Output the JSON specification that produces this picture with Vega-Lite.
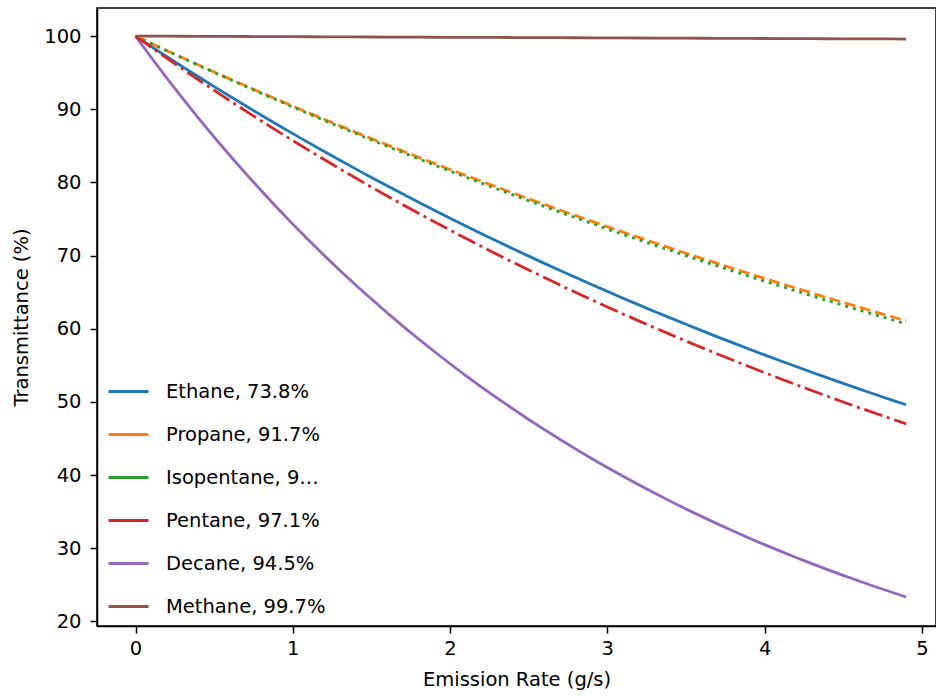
{
  "$schema": "https://vega.github.io/schema/vega-lite/v6.json",
  "autosize": {"type": "none"},
  "padding": {"left": 97, "top": 8, "right": 0, "bottom": 70},
  "width": 839,
  "height": 618,
  "background": "white",
  "config": {
    "font": "DejaVu Sans",
    "view": {"stroke": "black", "strokeWidth": 1.5},
    "axis": {
      "grid": false,
      "domainColor": "black",
      "domainWidth": 1.5,
      "tickColor": "black",
      "tickWidth": 1.5,
      "tickSize": 7,
      "labelColor": "black",
      "labelFontSize": 19.5,
      "titleColor": "black",
      "titleFontSize": 19.5,
      "titleFontWeight": "normal"
    }
  },
  "data": {
    "values": [
      {"s":"Ethane, 73.8%","x":0,"T":100},{"s":"Ethane, 73.8%","x":0.1,"T":98.58},{"s":"Ethane, 73.8%","x":0.2,"T":97.18},{"s":"Ethane, 73.8%","x":0.3,"T":95.80},{"s":"Ethane, 73.8%","x":0.4,"T":94.44},{"s":"Ethane, 73.8%","x":0.5,"T":93.09},{"s":"Ethane, 73.8%","x":0.6,"T":91.77},{"s":"Ethane, 73.8%","x":0.7,"T":90.47},{"s":"Ethane, 73.8%","x":0.8,"T":89.18},{"s":"Ethane, 73.8%","x":0.9,"T":87.92},
      {"s":"Ethane, 73.8%","x":1.0,"T":86.67},{"s":"Ethane, 73.8%","x":1.1,"T":85.44},{"s":"Ethane, 73.8%","x":1.2,"T":84.22},{"s":"Ethane, 73.8%","x":1.3,"T":83.02},{"s":"Ethane, 73.8%","x":1.4,"T":81.85},{"s":"Ethane, 73.8%","x":1.5,"T":80.68},{"s":"Ethane, 73.8%","x":1.6,"T":79.54},{"s":"Ethane, 73.8%","x":1.7,"T":78.41},{"s":"Ethane, 73.8%","x":1.8,"T":77.29},{"s":"Ethane, 73.8%","x":1.9,"T":76.19},
      {"s":"Ethane, 73.8%","x":2.0,"T":75.11},{"s":"Ethane, 73.8%","x":2.1,"T":74.04},{"s":"Ethane, 73.8%","x":2.2,"T":72.99},{"s":"Ethane, 73.8%","x":2.3,"T":71.95},{"s":"Ethane, 73.8%","x":2.4,"T":70.93},{"s":"Ethane, 73.8%","x":2.5,"T":69.92},{"s":"Ethane, 73.8%","x":2.6,"T":68.93},{"s":"Ethane, 73.8%","x":2.7,"T":67.95},{"s":"Ethane, 73.8%","x":2.8,"T":66.99},{"s":"Ethane, 73.8%","x":2.9,"T":66.03},
      {"s":"Ethane, 73.8%","x":3.0,"T":65.10},{"s":"Ethane, 73.8%","x":3.1,"T":64.17},{"s":"Ethane, 73.8%","x":3.2,"T":63.26},{"s":"Ethane, 73.8%","x":3.3,"T":62.36},{"s":"Ethane, 73.8%","x":3.4,"T":61.48},{"s":"Ethane, 73.8%","x":3.5,"T":60.60},{"s":"Ethane, 73.8%","x":3.6,"T":59.74},{"s":"Ethane, 73.8%","x":3.7,"T":58.89},{"s":"Ethane, 73.8%","x":3.8,"T":58.06},{"s":"Ethane, 73.8%","x":3.9,"T":57.23},
      {"s":"Ethane, 73.8%","x":4.0,"T":56.42},{"s":"Ethane, 73.8%","x":4.1,"T":55.62},{"s":"Ethane, 73.8%","x":4.2,"T":54.83},{"s":"Ethane, 73.8%","x":4.3,"T":54.05},{"s":"Ethane, 73.8%","x":4.4,"T":53.28},{"s":"Ethane, 73.8%","x":4.5,"T":52.52},{"s":"Ethane, 73.8%","x":4.6,"T":51.78},{"s":"Ethane, 73.8%","x":4.7,"T":51.04},{"s":"Ethane, 73.8%","x":4.8,"T":50.31},{"s":"Ethane, 73.8%","x":4.9,"T":49.60},
      {"s":"Decane, 94.5%","x":0,"T":100},{"s":"Decane, 94.5%","x":0.1,"T":97.07},{"s":"Decane, 94.5%","x":0.2,"T":94.23},{"s":"Decane, 94.5%","x":0.3,"T":91.48},{"s":"Decane, 94.5%","x":0.4,"T":88.80},{"s":"Decane, 94.5%","x":0.5,"T":86.20},{"s":"Decane, 94.5%","x":0.6,"T":83.68},{"s":"Decane, 94.5%","x":0.7,"T":81.23},{"s":"Decane, 94.5%","x":0.8,"T":78.85},{"s":"Decane, 94.5%","x":0.9,"T":76.54},
      {"s":"Decane, 94.5%","x":1.0,"T":74.30},{"s":"Decane, 94.5%","x":1.1,"T":72.13},{"s":"Decane, 94.5%","x":1.2,"T":70.02},{"s":"Decane, 94.5%","x":1.3,"T":67.97},{"s":"Decane, 94.5%","x":1.4,"T":65.98},{"s":"Decane, 94.5%","x":1.5,"T":64.05},{"s":"Decane, 94.5%","x":1.6,"T":62.18},{"s":"Decane, 94.5%","x":1.7,"T":60.36},{"s":"Decane, 94.5%","x":1.8,"T":58.59},{"s":"Decane, 94.5%","x":1.9,"T":56.88},
      {"s":"Decane, 94.5%","x":2.0,"T":55.21},{"s":"Decane, 94.5%","x":2.1,"T":53.60},{"s":"Decane, 94.5%","x":2.2,"T":52.03},{"s":"Decane, 94.5%","x":2.3,"T":50.50},{"s":"Decane, 94.5%","x":2.4,"T":49.03},{"s":"Decane, 94.5%","x":2.5,"T":47.59},{"s":"Decane, 94.5%","x":2.6,"T":46.20},{"s":"Decane, 94.5%","x":2.7,"T":44.85},{"s":"Decane, 94.5%","x":2.8,"T":43.54},{"s":"Decane, 94.5%","x":2.9,"T":42.26},
      {"s":"Decane, 94.5%","x":3.0,"T":41.02},{"s":"Decane, 94.5%","x":3.1,"T":39.82},{"s":"Decane, 94.5%","x":3.2,"T":38.66},{"s":"Decane, 94.5%","x":3.3,"T":37.53},{"s":"Decane, 94.5%","x":3.4,"T":36.43},{"s":"Decane, 94.5%","x":3.5,"T":35.36},{"s":"Decane, 94.5%","x":3.6,"T":34.33},{"s":"Decane, 94.5%","x":3.7,"T":33.32},{"s":"Decane, 94.5%","x":3.8,"T":32.35},{"s":"Decane, 94.5%","x":3.9,"T":31.40},
      {"s":"Decane, 94.5%","x":4.0,"T":30.48},{"s":"Decane, 94.5%","x":4.1,"T":29.59},{"s":"Decane, 94.5%","x":4.2,"T":28.72},{"s":"Decane, 94.5%","x":4.3,"T":27.88},{"s":"Decane, 94.5%","x":4.4,"T":27.07},{"s":"Decane, 94.5%","x":4.5,"T":26.28},{"s":"Decane, 94.5%","x":4.6,"T":25.51},{"s":"Decane, 94.5%","x":4.7,"T":24.76},{"s":"Decane, 94.5%","x":4.8,"T":24.04},{"s":"Decane, 94.5%","x":4.9,"T":23.33},
      {"s":"Methane, 99.7%","x":0,"T":100},{"s":"Methane, 99.7%","x":0.1,"T":99.992},{"s":"Methane, 99.7%","x":0.2,"T":99.984},{"s":"Methane, 99.7%","x":0.3,"T":99.975},{"s":"Methane, 99.7%","x":0.4,"T":99.967},{"s":"Methane, 99.7%","x":0.5,"T":99.959},{"s":"Methane, 99.7%","x":0.6,"T":99.951},{"s":"Methane, 99.7%","x":0.7,"T":99.943},{"s":"Methane, 99.7%","x":0.8,"T":99.934},{"s":"Methane, 99.7%","x":0.9,"T":99.926},
      {"s":"Methane, 99.7%","x":1.0,"T":99.918},{"s":"Methane, 99.7%","x":1.1,"T":99.910},{"s":"Methane, 99.7%","x":1.2,"T":99.902},{"s":"Methane, 99.7%","x":1.3,"T":99.893},{"s":"Methane, 99.7%","x":1.4,"T":99.885},{"s":"Methane, 99.7%","x":1.5,"T":99.877},{"s":"Methane, 99.7%","x":1.6,"T":99.869},{"s":"Methane, 99.7%","x":1.7,"T":99.861},{"s":"Methane, 99.7%","x":1.8,"T":99.852},{"s":"Methane, 99.7%","x":1.9,"T":99.844},
      {"s":"Methane, 99.7%","x":2.0,"T":99.836},{"s":"Methane, 99.7%","x":2.1,"T":99.828},{"s":"Methane, 99.7%","x":2.2,"T":99.820},{"s":"Methane, 99.7%","x":2.3,"T":99.811},{"s":"Methane, 99.7%","x":2.4,"T":99.803},{"s":"Methane, 99.7%","x":2.5,"T":99.795},{"s":"Methane, 99.7%","x":2.6,"T":99.787},{"s":"Methane, 99.7%","x":2.7,"T":99.779},{"s":"Methane, 99.7%","x":2.8,"T":99.770},{"s":"Methane, 99.7%","x":2.9,"T":99.762},
      {"s":"Methane, 99.7%","x":3.0,"T":99.754},{"s":"Methane, 99.7%","x":3.1,"T":99.746},{"s":"Methane, 99.7%","x":3.2,"T":99.738},{"s":"Methane, 99.7%","x":3.3,"T":99.729},{"s":"Methane, 99.7%","x":3.4,"T":99.721},{"s":"Methane, 99.7%","x":3.5,"T":99.713},{"s":"Methane, 99.7%","x":3.6,"T":99.705},{"s":"Methane, 99.7%","x":3.7,"T":99.697},{"s":"Methane, 99.7%","x":3.8,"T":99.688},{"s":"Methane, 99.7%","x":3.9,"T":99.680},
      {"s":"Methane, 99.7%","x":4.0,"T":99.672},{"s":"Methane, 99.7%","x":4.1,"T":99.664},{"s":"Methane, 99.7%","x":4.2,"T":99.656},{"s":"Methane, 99.7%","x":4.3,"T":99.647},{"s":"Methane, 99.7%","x":4.4,"T":99.639},{"s":"Methane, 99.7%","x":4.5,"T":99.631},{"s":"Methane, 99.7%","x":4.6,"T":99.623},{"s":"Methane, 99.7%","x":4.7,"T":99.615},{"s":"Methane, 99.7%","x":4.8,"T":99.606},{"s":"Methane, 99.7%","x":4.9,"T":99.598}
    ]
  },
  "layer": [
    {
      "mark": {"type": "line", "strokeWidth": 2.8},
      "encoding": {
        "x": {
          "field": "x", "type": "quantitative",
          "scale": {"domain": [-0.245, 5.09], "nice": false, "zero": false},
          "axis": {"values": [0,1,2,3,4,5], "title": "Emission Rate (g/s)", "labelPadding": 6, "titlePadding": 13}
        },
        "y": {
          "field": "T", "type": "quantitative",
          "scale": {"domain": [19.36, 103.84], "nice": false, "zero": false},
          "axis": {"values": [20,30,40,50,60,70,80,90,100], "title": "Transmittance (%)", "labelPadding": 9, "titlePadding": 12}
        },
        "color": {
          "field": "s", "type": "nominal",
          "scale": {
            "domain": ["Ethane, 73.8%","Propane, 91.7%","Isopentane, 97.6%","Pentane, 97.1%","Decane, 94.5%","Methane, 99.7%"],
            "range": ["#1f77b4","#ff7f0e","#2ca02c","#d62728","#9467bd","#8c564b"]
          },
          "legend": {
            "title": null,
            "orient": "bottom-left",
            "offset": 10,
            "labelFontSize": 19.5,
            "symbolSize": 1600,
            "symbolStrokeWidth": 2.8,
            "labelOffset": 16,
            "rowPadding": 12
          }
        }
      }
    },
    {
      "data": {
        "values": [
          {"s":"Propane, 91.7%","x":0,"T":100},{"s":"Propane, 91.7%","x":0.1,"T":99.00},{"s":"Propane, 91.7%","x":0.2,"T":98.01},{"s":"Propane, 91.7%","x":0.3,"T":97.03},{"s":"Propane, 91.7%","x":0.4,"T":96.06},{"s":"Propane, 91.7%","x":0.5,"T":95.09},{"s":"Propane, 91.7%","x":0.6,"T":94.14},{"s":"Propane, 91.7%","x":0.7,"T":93.20},{"s":"Propane, 91.7%","x":0.8,"T":92.27},{"s":"Propane, 91.7%","x":0.9,"T":91.34},
          {"s":"Propane, 91.7%","x":1.0,"T":90.43},{"s":"Propane, 91.7%","x":1.1,"T":89.52},{"s":"Propane, 91.7%","x":1.2,"T":88.63},{"s":"Propane, 91.7%","x":1.3,"T":87.74},{"s":"Propane, 91.7%","x":1.4,"T":86.86},{"s":"Propane, 91.7%","x":1.5,"T":85.99},{"s":"Propane, 91.7%","x":1.6,"T":85.13},{"s":"Propane, 91.7%","x":1.7,"T":84.28},{"s":"Propane, 91.7%","x":1.8,"T":83.44},{"s":"Propane, 91.7%","x":1.9,"T":82.60},
          {"s":"Propane, 91.7%","x":2.0,"T":81.77},{"s":"Propane, 91.7%","x":2.1,"T":80.96},{"s":"Propane, 91.7%","x":2.2,"T":80.15},{"s":"Propane, 91.7%","x":2.3,"T":79.34},{"s":"Propane, 91.7%","x":2.4,"T":78.55},{"s":"Propane, 91.7%","x":2.5,"T":77.76},{"s":"Propane, 91.7%","x":2.6,"T":76.99},{"s":"Propane, 91.7%","x":2.7,"T":76.21},{"s":"Propane, 91.7%","x":2.8,"T":75.45},{"s":"Propane, 91.7%","x":2.9,"T":74.70},
          {"s":"Propane, 91.7%","x":3.0,"T":73.95},{"s":"Propane, 91.7%","x":3.1,"T":73.21},{"s":"Propane, 91.7%","x":3.2,"T":72.48},{"s":"Propane, 91.7%","x":3.3,"T":71.75},{"s":"Propane, 91.7%","x":3.4,"T":71.03},{"s":"Propane, 91.7%","x":3.5,"T":70.32},{"s":"Propane, 91.7%","x":3.6,"T":69.62},{"s":"Propane, 91.7%","x":3.7,"T":68.92},{"s":"Propane, 91.7%","x":3.8,"T":68.23},{"s":"Propane, 91.7%","x":3.9,"T":67.55},
          {"s":"Propane, 91.7%","x":4.0,"T":66.87},{"s":"Propane, 91.7%","x":4.1,"T":66.20},{"s":"Propane, 91.7%","x":4.2,"T":65.54},{"s":"Propane, 91.7%","x":4.3,"T":64.88},{"s":"Propane, 91.7%","x":4.4,"T":64.23},{"s":"Propane, 91.7%","x":4.5,"T":63.59},{"s":"Propane, 91.7%","x":4.6,"T":62.95},{"s":"Propane, 91.7%","x":4.7,"T":62.32},{"s":"Propane, 91.7%","x":4.8,"T":61.70},{"s":"Propane, 91.7%","x":4.9,"T":61.08}
        ]
      },
      "mark": {"type": "line", "strokeWidth": 2.8, "strokeDash": [11, 4.8]},
      "encoding": {
        "x": {"field": "x", "type": "quantitative", "scale": {"domain": [-0.245, 5.09], "nice": false, "zero": false}, "axis": {"values": [0,1,2,3,4,5], "title": "Emission Rate (g/s)", "labelPadding": 6, "titlePadding": 13}},
        "y": {"field": "T", "type": "quantitative", "scale": {"domain": [19.36, 103.84], "nice": false, "zero": false}, "axis": {"values": [20,30,40,50,60,70,80,90,100], "title": "Transmittance (%)", "labelPadding": 9, "titlePadding": 12}},
        "color": {"field": "s", "type": "nominal"}
      }
    },
    {
      "data": {
        "values": [
          {"s":"Isopentane, 97.6%","x":0,"T":100},{"s":"Isopentane, 97.6%","x":0.1,"T":98.99},{"s":"Isopentane, 97.6%","x":0.2,"T":97.98},{"s":"Isopentane, 97.6%","x":0.3,"T":96.99},{"s":"Isopentane, 97.6%","x":0.4,"T":96.00},{"s":"Isopentane, 97.6%","x":0.5,"T":95.03},{"s":"Isopentane, 97.6%","x":0.6,"T":94.07},{"s":"Isopentane, 97.6%","x":0.7,"T":93.11},{"s":"Isopentane, 97.6%","x":0.8,"T":92.17},{"s":"Isopentane, 97.6%","x":0.9,"T":91.23},
          {"s":"Isopentane, 97.6%","x":1.0,"T":90.30},{"s":"Isopentane, 97.6%","x":1.1,"T":89.39},{"s":"Isopentane, 97.6%","x":1.2,"T":88.48},{"s":"Isopentane, 97.6%","x":1.3,"T":87.58},{"s":"Isopentane, 97.6%","x":1.4,"T":86.69},{"s":"Isopentane, 97.6%","x":1.5,"T":85.81},{"s":"Isopentane, 97.6%","x":1.6,"T":84.94},{"s":"Isopentane, 97.6%","x":1.7,"T":84.08},{"s":"Isopentane, 97.6%","x":1.8,"T":83.23},{"s":"Isopentane, 97.6%","x":1.9,"T":82.38},
          {"s":"Isopentane, 97.6%","x":2.0,"T":81.55},{"s":"Isopentane, 97.6%","x":2.1,"T":80.72},{"s":"Isopentane, 97.6%","x":2.2,"T":79.90},{"s":"Isopentane, 97.6%","x":2.3,"T":79.09},{"s":"Isopentane, 97.6%","x":2.4,"T":78.29},{"s":"Isopentane, 97.6%","x":2.5,"T":77.49},{"s":"Isopentane, 97.6%","x":2.6,"T":76.71},{"s":"Isopentane, 97.6%","x":2.7,"T":75.93},{"s":"Isopentane, 97.6%","x":2.8,"T":75.16},{"s":"Isopentane, 97.6%","x":2.9,"T":74.40},
          {"s":"Isopentane, 97.6%","x":3.0,"T":73.64},{"s":"Isopentane, 97.6%","x":3.1,"T":72.89},{"s":"Isopentane, 97.6%","x":3.2,"T":72.15},{"s":"Isopentane, 97.6%","x":3.3,"T":71.42},{"s":"Isopentane, 97.6%","x":3.4,"T":70.70},{"s":"Isopentane, 97.6%","x":3.5,"T":69.98},{"s":"Isopentane, 97.6%","x":3.6,"T":69.27},{"s":"Isopentane, 97.6%","x":3.7,"T":68.57},{"s":"Isopentane, 97.6%","x":3.8,"T":67.87},{"s":"Isopentane, 97.6%","x":3.9,"T":67.18},
          {"s":"Isopentane, 97.6%","x":4.0,"T":66.50},{"s":"Isopentane, 97.6%","x":4.1,"T":65.82},{"s":"Isopentane, 97.6%","x":4.2,"T":65.16},{"s":"Isopentane, 97.6%","x":4.3,"T":64.50},{"s":"Isopentane, 97.6%","x":4.4,"T":63.84},{"s":"Isopentane, 97.6%","x":4.5,"T":63.19},{"s":"Isopentane, 97.6%","x":4.6,"T":62.55},{"s":"Isopentane, 97.6%","x":4.7,"T":61.92},{"s":"Isopentane, 97.6%","x":4.8,"T":61.29},{"s":"Isopentane, 97.6%","x":4.9,"T":60.67}
        ]
      },
      "mark": {"type": "line", "strokeWidth": 2.8, "strokeDash": [3, 5]},
      "encoding": {
        "x": {"field": "x", "type": "quantitative", "scale": {"domain": [-0.245, 5.09], "nice": false, "zero": false}, "axis": {"values": [0,1,2,3,4,5], "title": "Emission Rate (g/s)", "labelPadding": 6, "titlePadding": 13}},
        "y": {"field": "T", "type": "quantitative", "scale": {"domain": [19.36, 103.84], "nice": false, "zero": false}, "axis": {"values": [20,30,40,50,60,70,80,90,100], "title": "Transmittance (%)", "labelPadding": 9, "titlePadding": 12}},
        "color": {"field": "s", "type": "nominal"}
      }
    },
    {
      "data": {
        "values": [
          {"s":"Pentane, 97.1%","x":0,"T":100},{"s":"Pentane, 97.1%","x":0.1,"T":98.47},{"s":"Pentane, 97.1%","x":0.2,"T":96.97},{"s":"Pentane, 97.1%","x":0.3,"T":95.48},{"s":"Pentane, 97.1%","x":0.4,"T":94.02},{"s":"Pentane, 97.1%","x":0.5,"T":92.58},{"s":"Pentane, 97.1%","x":0.6,"T":91.17},{"s":"Pentane, 97.1%","x":0.7,"T":89.77},{"s":"Pentane, 97.1%","x":0.8,"T":88.40},{"s":"Pentane, 97.1%","x":0.9,"T":87.05},
          {"s":"Pentane, 97.1%","x":1.0,"T":85.72},{"s":"Pentane, 97.1%","x":1.1,"T":84.41},{"s":"Pentane, 97.1%","x":1.2,"T":83.12},{"s":"Pentane, 97.1%","x":1.3,"T":81.85},{"s":"Pentane, 97.1%","x":1.4,"T":80.59},{"s":"Pentane, 97.1%","x":1.5,"T":79.36},{"s":"Pentane, 97.1%","x":1.6,"T":78.15},{"s":"Pentane, 97.1%","x":1.7,"T":76.95},{"s":"Pentane, 97.1%","x":1.8,"T":75.78},{"s":"Pentane, 97.1%","x":1.9,"T":74.62},
          {"s":"Pentane, 97.1%","x":2.0,"T":73.48},{"s":"Pentane, 97.1%","x":2.1,"T":72.35},{"s":"Pentane, 97.1%","x":2.2,"T":71.25},{"s":"Pentane, 97.1%","x":2.3,"T":70.16},{"s":"Pentane, 97.1%","x":2.4,"T":69.08},{"s":"Pentane, 97.1%","x":2.5,"T":68.03},{"s":"Pentane, 97.1%","x":2.6,"T":66.99},{"s":"Pentane, 97.1%","x":2.7,"T":65.96},{"s":"Pentane, 97.1%","x":2.8,"T":64.95},{"s":"Pentane, 97.1%","x":2.9,"T":63.96},
          {"s":"Pentane, 97.1%","x":3.0,"T":62.98},{"s":"Pentane, 97.1%","x":3.1,"T":62.02},{"s":"Pentane, 97.1%","x":3.2,"T":61.07},{"s":"Pentane, 97.1%","x":3.3,"T":60.14},{"s":"Pentane, 97.1%","x":3.4,"T":59.22},{"s":"Pentane, 97.1%","x":3.5,"T":58.31},{"s":"Pentane, 97.1%","x":3.6,"T":57.42},{"s":"Pentane, 97.1%","x":3.7,"T":56.54},{"s":"Pentane, 97.1%","x":3.8,"T":55.68},{"s":"Pentane, 97.1%","x":3.9,"T":54.83},
          {"s":"Pentane, 97.1%","x":4.0,"T":53.99},{"s":"Pentane, 97.1%","x":4.1,"T":53.16},{"s":"Pentane, 97.1%","x":4.2,"T":52.35},{"s":"Pentane, 97.1%","x":4.3,"T":51.55},{"s":"Pentane, 97.1%","x":4.4,"T":50.76},{"s":"Pentane, 97.1%","x":4.5,"T":49.98},{"s":"Pentane, 97.1%","x":4.6,"T":49.22},{"s":"Pentane, 97.1%","x":4.7,"T":48.47},{"s":"Pentane, 97.1%","x":4.8,"T":47.73},{"s":"Pentane, 97.1%","x":4.9,"T":47.00}
        ]
      },
      "mark": {"type": "line", "strokeWidth": 2.8, "strokeDash": [19, 4.8, 3, 4.8]},
      "encoding": {
        "x": {"field": "x", "type": "quantitative", "scale": {"domain": [-0.245, 5.09], "nice": false, "zero": false}, "axis": {"values": [0,1,2,3,4,5], "title": "Emission Rate (g/s)", "labelPadding": 6, "titlePadding": 13}},
        "y": {"field": "T", "type": "quantitative", "scale": {"domain": [19.36, 103.84], "nice": false, "zero": false}, "axis": {"values": [20,30,40,50,60,70,80,90,100], "title": "Transmittance (%)", "labelPadding": 9, "titlePadding": 12}},
        "color": {"field": "s", "type": "nominal"}
      }
    }
  ]
}
